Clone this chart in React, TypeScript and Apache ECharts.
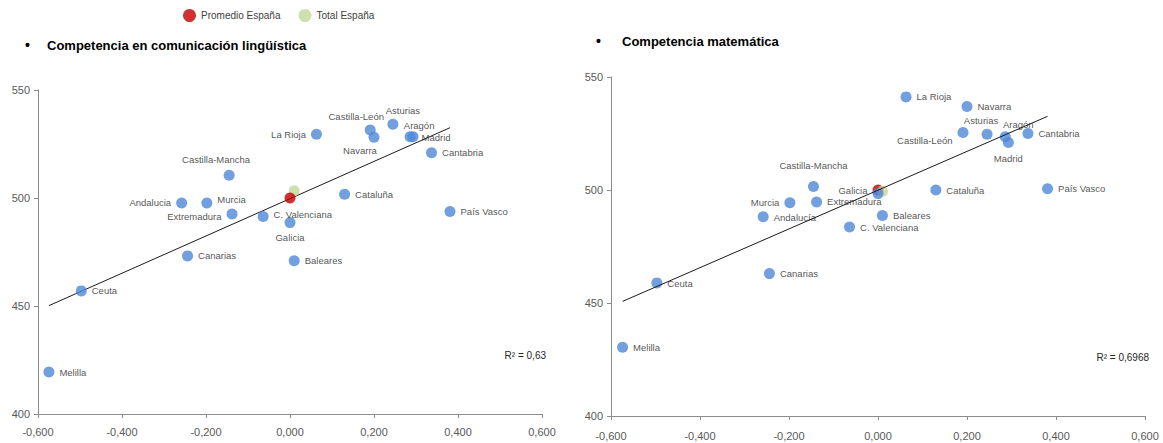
import { useEffect, useRef } from "react";
import * as echarts from "echarts";

// Region names (order shared by all arrays)
const regionsLing = ["La Rioja", "Castilla-León", "Navarra", "Asturias", "Aragón", "Madrid", "Cantabria", "Castilla-Mancha", "Cataluña", "Andalucia", "Murcia", "Extremadura", "C. Valenciana", "Galicia", "País Vasco", "Canarias", "Baleares", "Ceuta", "Melilla"];
const regionsMat = ["La Rioja", "Castilla-León", "Navarra", "Asturias", "Aragón", "Madrid", "Cantabria", "Castilla-Mancha", "Cataluña", "Andalucía", "Murcia", "Extremadura", "C. Valenciana", "Galicia", "País Vasco", "Canarias", "Baleares", "Ceuta", "Melilla"];
// Socio-economic index (x)
const socioX = [0.063, 0.191, 0.200, 0.245, 0.286, 0.293, 0.337, -0.145, 0.130, -0.258, -0.198, -0.138, -0.064, 0.000, 0.381, -0.244, 0.010, -0.497, -0.574];
// Scores (y)
const lingScores = [529.5, 531.5, 528.1, 534.1, 528.4, 528.4, 521.0, 510.5, 501.7, 497.7, 497.7, 492.6, 491.4, 488.6, 493.7, 473.2, 471.0, 457.0, 419.4];
const matScores = [541.2, 525.4, 536.9, 524.7, 523.6, 521.0, 525.0, 501.5, 500.0, 488.2, 494.4, 494.7, 483.6, 498.4, 500.6, 463.0, 488.7, 458.9, 430.4];
// Spain references
const promedioX = 0.0;
const promedioLing = 500;
const promedioMat = 500;
const totalX = 0.010;
const totalLing = 503.4;
const totalMat = 499.4;
const r2Ling = "R² = 0,63";
const r2Mat = "R² = 0,6968";
const yTicks = [400, 450, 500, 550];
const xTicks = [-0.6, 0.6, 0.2];

// label placements (style)
type LP = [string, number, number];
const lingLabelPos: LP[] = [
  ["left", 0, 0], ["top", -14, 2], ["bottom", -14, -2], ["top", 10, 2], ["top", 9, 4], ["right", -2, 1], ["right", 0, 0],
  ["top", -13, 0], ["right", 0, 0], ["left", 0, 0], ["right", 0, -3], ["left", 0, 3], ["right", 0, -2], ["bottom", 0, -1],
  ["right", 0, 0], ["right", 0, 0], ["right", 0, 0], ["right", 0, 0], ["right", 0, 0],
];
const matLabelPos: LP[] = [
  ["right", 0, 0], ["left", 0, 8], ["right", 0, 0], ["top", -6, 2], ["top", 13, 3], ["bottom", 0, 0], ["right", 0, 0],
  ["top", 0, -6], ["right", 0, 0], ["right", 0, 1], ["left", 0, 0], ["right", 0, 0], ["right", 0, 0], ["left", 0, -3],
  ["right", 0, 0], ["right", 0, 0], ["right", 0, 0], ["right", 0, 1], ["right", 0, 0],
];

const FONT = "'Liberation Sans', Arial, sans-serif";
const BLUE = "#4F88D6";
const RED = "#C00000";
const GREEN = "#C4D79B";

function trend(xs: number[], ys: number[]) {
  const n = xs.length;
  const mx = xs.reduce((a, b) => a + b, 0) / n;
  const my = ys.reduce((a, b) => a + b, 0) / n;
  let sxy = 0, sxx = 0;
  for (let i = 0; i < n; i++) {
    sxy += (xs[i] - mx) * (ys[i] - my);
    sxx += (xs[i] - mx) ** 2;
  }
  const b = sxy / sxx;
  const a = my - b * mx;
  const x0 = Math.min(...xs);
  const x1 = Math.max(...xs);
  return [[x0, a + b * x0], [x1, a + b * x1]];
}

function points(names: string[], ys: number[], pos: LP[]) {
  return names.map((n, i) => ({
    name: n,
    value: [socioX[i], ys[i]],
    label: { position: pos[i][0], offset: [pos[i][1], pos[i][2]] },
  }));
}

export default function App() {
  const ref = useRef<HTMLDivElement>(null);
  useEffect(() => {
    if (!ref.current) return;
    const chart = echarts.init(ref.current, null, { renderer: "svg" });
    const axisLine = { show: true, onZero: false, lineStyle: { color: "#8C8C8C", width: 1 } };
    const axisLabel = { color: "#595959", fontSize: 11, fontFamily: FONT };
    const xAxisBase = {
      type: "value",
      min: xTicks[0],
      max: xTicks[1],
      interval: xTicks[2],
      axisLine,
      axisTick: { show: true, length: 4, lineStyle: { color: "#8C8C8C" } },
      splitLine: { show: false },
    };
    const yAxisBase = {
      type: "value",
      min: yTicks[0],
      max: yTicks[yTicks.length - 1],
      interval: yTicks[1] - yTicks[0],
      axisLine,
      axisTick: { show: true, length: 4, lineStyle: { color: "#8C8C8C" } },
      splitLine: { show: false },
      axisLabel: { ...axisLabel, margin: 8 },
    };
    const fmt = (v: number) => v.toFixed(3).replace(".", ",");
    const labelStyle = { show: true, formatter: "{b}", color: "#262626", fontSize: 9.5, fontFamily: FONT };
    chart.setOption({
      animation: false,
      textStyle: { fontFamily: FONT },
      title: [
        { text: "Competencia en comunicación lingüística", left: 47, top: 39, padding: 0, textStyle: { fontSize: 13, fontWeight: "bold", color: "#000", fontFamily: FONT } },
        { text: "Competencia matemática", left: 622, top: 35, padding: 0, textStyle: { fontSize: 13, fontWeight: "bold", color: "#000", fontFamily: FONT } },
      ],
      legend: {
        data: ["Promedio España", "Total España"],
        left: 183,
        top: 9,
        padding: 0,
        icon: "circle",
        itemWidth: 13,
        itemHeight: 13,
        itemGap: 18,
        textStyle: { fontSize: 10, color: "#404040", fontFamily: FONT },
      },
      graphic: [
        { type: "text", left: 25, top: 38, style: { text: "•", fontSize: 14, fontWeight: "bold", fill: "#000", fontFamily: FONT } },
        { type: "text", left: 596, top: 34, style: { text: "•", fontSize: 14, fontWeight: "bold", fill: "#000", fontFamily: FONT } },
        { type: "text", right: 617, top: 350, style: { text: r2Ling, fontSize: 10, fill: "#262626", fontFamily: FONT } },
        { type: "text", right: 14, top: 352, style: { text: r2Mat, fontSize: 10, fill: "#262626", fontFamily: FONT } },
      ],
      grid: [
        { left: 38, top: 90, width: 504, height: 324 },
        { left: 611, top: 77, width: 534, height: 339 },
      ],
      xAxis: [
        { ...xAxisBase, gridIndex: 0, axisLabel: { ...axisLabel, margin: 12, formatter: fmt } },
        { ...xAxisBase, gridIndex: 1, axisLabel: { ...axisLabel, margin: 14, formatter: fmt } },
      ],
      yAxis: [
        { ...yAxisBase, gridIndex: 0 },
        { ...yAxisBase, gridIndex: 1 },
      ],
      series: [
        {
          type: "line", xAxisIndex: 0, yAxisIndex: 0, data: trend(socioX, lingScores), showSymbol: false, symbol: "none",
          lineStyle: { color: "#1a1a1a", width: 1 }, z: 1, silent: true,
        },
        {
          type: "scatter", name: "Comunidades", xAxisIndex: 0, yAxisIndex: 0, symbolSize: 11,
          itemStyle: { color: BLUE }, label: labelStyle, data: points(regionsLing, lingScores, lingLabelPos), z: 2,
        },
        {
          type: "scatter", name: "Total España", xAxisIndex: 0, yAxisIndex: 0, symbolSize: 11,
          itemStyle: { color: GREEN }, data: [[totalX, totalLing]], z: 3,
        },
        {
          type: "scatter", name: "Promedio España", xAxisIndex: 0, yAxisIndex: 0, symbolSize: 11,
          itemStyle: { color: RED }, data: [[promedioX, promedioLing]], z: 4,
        },
        {
          type: "line", xAxisIndex: 1, yAxisIndex: 1, data: trend(socioX, matScores), showSymbol: false, symbol: "none",
          lineStyle: { color: "#1a1a1a", width: 1 }, z: 5, silent: true,
        },
        {
          type: "scatter", name: "Promedio España", xAxisIndex: 1, yAxisIndex: 1, symbolSize: 11,
          itemStyle: { color: RED }, data: [[promedioX, promedioMat]], z: 2,
        },
        {
          type: "scatter", name: "Total España", xAxisIndex: 1, yAxisIndex: 1, symbolSize: 11,
          itemStyle: { color: GREEN }, data: [[totalX, totalMat]], z: 3,
        },
        {
          type: "scatter", name: "Comunidades", xAxisIndex: 1, yAxisIndex: 1, symbolSize: 11,
          itemStyle: { color: BLUE }, label: labelStyle, data: points(regionsMat, matScores, matLabelPos), z: 4,
        },
      ],
    });
    return () => chart.dispose();
  }, []);
  return <div ref={ref} style={{ width: 1163, height: 443, position: "absolute", left: 0, top: 0, background: "#fff" }} />;
}
